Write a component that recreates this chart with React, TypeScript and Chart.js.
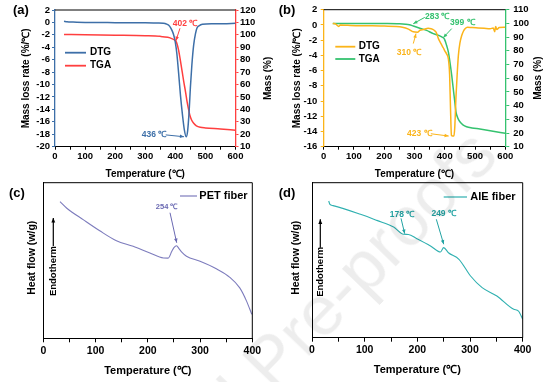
import React, { useEffect, useRef } from 'react';
import { Chart, registerables } from 'chart.js';
Chart.register(...registerables);

const FONT = '"Liberation Sans", Arial, sans-serif';
const BLUE = '#3d6fa8';
const RED = '#ff3f3f';
const ORANGE = '#fbb41a';
const GREEN = '#35c26f';
const PURPLE = '#7d7cbd';
const TEAL = '#2fb0b0';

// (a) PET fiber TG / DTG
const tempDtgA = [30, 40, 60, 100, 150, 200, 250, 300, 340, 360, 370, 378, 385, 390, 395, 400, 405, 411, 417, 424, 430, 436, 441, 446, 450, 455, 461, 467, 472, 480, 490, 520, 560, 600];
const dtgA = [0.2, 0.1, 0.05, 0, 0, -0.05, -0.05, -0.05, -0.1, -0.15, -0.25, -0.45, -0.9, -1.4, -2.1, -3.2, -5.0, -8.2, -11.7, -15.0, -17.3, -18.4, -17.4, -14.2, -10.5, -6.8, -3.6, -1.8, -0.9, -0.5, -0.3, -0.2, -0.2, -0.15];
const tempTgaA = [30, 100, 200, 300, 350, 375, 390, 398, 402, 406, 411, 417, 423, 428, 434, 439, 444, 448, 454, 461, 470, 483, 500, 550, 600];
const tgaA = [100.3, 100.0, 99.7, 99.3, 98.8, 98.0, 96.8, 95.8, 95.0, 92.5, 87.5, 79.0, 70.0, 62.3, 54.0, 46.2, 40.0, 35.5, 31.5, 28.8, 26.8, 25.6, 25.1, 24.3, 23.3];

// (b) AIE fiber TG / DTG
const tempDtgB = [30, 40, 50, 55, 80, 120, 160, 200, 240, 260, 280, 296, 310, 318, 330, 345, 355, 365, 372, 379, 388, 395, 400, 406, 412, 416, 419, 422, 426, 430, 433, 437, 441, 445, 450, 456, 462, 467, 475, 490, 510, 530, 550, 560, 565, 568, 572, 580, 600];
const dtgB = [0.2, 0.1, -0.2, 0, -0.05, -0.1, -0.1, -0.15, -0.2, -0.3, -0.55, -0.9, -0.95, -0.7, -0.6, -0.45, -0.5, -0.7, -1.0, -1.8, -2.5, -3.0, -3.4, -3.8, -4.5, -6.5, -11.0, -14.5, -14.6, -14.6, -13.5, -9.5, -6.5, -4.0, -2.4, -1.4, -0.8, -0.5, -0.3, -0.35, -0.4, -0.45, -0.5, -0.4, -0.9, -0.2, -0.6, -0.35, -0.3];
const tempTgaB = [30, 100, 200, 250, 270, 283, 296, 320, 340, 362, 380, 390, 399, 406, 412, 417, 423, 428, 433, 437, 443, 450, 460, 472, 490, 516, 550, 600];
const tgaB = [100, 100, 99.9, 99.7, 99.4, 99.0, 98.1, 96.3, 94.9, 92.5, 91.3, 90.1, 88.5, 84.0, 79.0, 71.9, 62.0, 52.5, 43.0, 35.5, 31.0, 28.2, 26.0, 24.6, 23.7, 22.9, 21.7, 19.8];

// (c) DSC PET fiber (arbitrary heat-flow units)
const tempC = [32, 45, 77, 108, 140, 172, 204, 230, 239, 246, 250, 255, 260, 265, 274, 300, 332, 357, 376, 389, 399];
const heatPET = [87.8, 83.6, 76.1, 69.1, 62.7, 59.1, 54.8, 51.6, 51.5, 55.9, 58.3, 59.5, 57.5, 55.4, 52.7, 49.5, 44.5, 39.2, 32.4, 23.9, 15.4];

// (d) DSC AIE fiber
const tempD = [31.7, 34, 40, 92, 123, 155, 174, 183, 199, 225, 244, 250, 259, 279, 301, 323, 351, 383, 392, 400];
const heatAIE = [88.2, 86.0, 85.2, 79.6, 75.7, 71.4, 66.7, 66.6, 63.9, 59.2, 55.3, 58.1, 54.8, 50.6, 39.8, 32.3, 26.9, 18.3, 17.2, 11.9];

// annotations: label, axis, text anchor (T, value), arrow tail, arrow head
const annA = [
  { label: '402 ℃', axis: 'y2', color: RED, text: [432, 109.3], from: [415.5, 105.3], to: [402, 95.3] },
  { label: '436 ℃', axis: 'y', color: BLUE, text: [329, -18.1], from: [368, -18.1], to: [429, -18.4] },
];
const annB = [
  { label: '283 ℃', axis: 'y2', color: GREEN, text: [375, 104.9], from: [334, 104.4], to: [296, 99.8] },
  { label: '399 ℃', axis: 'y2', color: GREEN, text: [458, 100.5], from: [423, 96.2], to: [395, 89.6] },
  { label: '310 ℃', axis: 'y', color: ORANGE, text: [282, -3.6], from: [296, -2.45], to: [305, -1.14] },
  { label: '423 ℃', axis: 'y', color: ORANGE, text: [316, -14.3], from: [354, -14.3], to: [413, -14.6] },
];
const annC = [
  { label: '254 ℃', axis: 'y', color: '#6a69b2', text: [236, 84.4], from: [242.5, 80.7], to: [255.3, 61.4] },
];
const annD = [
  { label: '178 ℃', axis: 'y', color: '#22a3a3', text: [171, 79.6], from: [169, 77], to: [176, 67.1] },
  { label: '249 ℃', axis: 'y', color: '#22a3a3', text: [250, 80.3], from: [236, 76.4], to: [250, 60.3] },
];

const pts = (xs: number[], ys: number[]) => xs.map((x, i) => ({ x, y: ys[i] }));

function drawText(ctx: CanvasRenderingContext2D, s: string, x: number, y: number, size: number, color: string, align: CanvasTextAlign = 'center', rot = 0) {
  ctx.save();
  ctx.translate(x, y);
  if (rot) ctx.rotate(rot);
  ctx.font = `bold ${size}px ${FONT}`;
  ctx.fillStyle = color;
  ctx.textAlign = align;
  ctx.textBaseline = 'middle';
  ctx.fillText(s, 0, 0);
  ctx.restore();
}

function arrow(ctx: CanvasRenderingContext2D, x1: number, y1: number, x2: number, y2: number, color: string, lw = 1, head = 4.5) {
  ctx.save();
  ctx.strokeStyle = color;
  ctx.fillStyle = color;
  ctx.lineWidth = lw;
  ctx.beginPath();
  ctx.moveTo(x1, y1);
  ctx.lineTo(x2, y2);
  ctx.stroke();
  const a = Math.atan2(y2 - y1, x2 - x1);
  ctx.beginPath();
  ctx.moveTo(x2, y2);
  ctx.lineTo(x2 - head * Math.cos(a - 0.4), y2 - head * Math.sin(a - 0.4));
  ctx.lineTo(x2 - head * Math.cos(a + 0.4), y2 - head * Math.sin(a + 0.4));
  ctx.closePath();
  ctx.fill();
  ctx.restore();
}

function drawAnn(chart: any, anns: any[], size: number) {
  const ctx = chart.ctx as CanvasRenderingContext2D;
  const xs = chart.scales.x;
  for (const a of anns) {
    const ys = chart.scales[a.axis];
    const X = (t: number) => xs.getPixelForValue(t);
    const Y = (v: number) => ys.getPixelForValue(v);
    drawText(ctx, a.label, X(a.text[0]), Y(a.text[1]), size, a.color);
    arrow(ctx, X(a.from[0]), Y(a.from[1]), X(a.to[0]), Y(a.to[1]), a.color, 1, 4.5);
  }
}

function hLine(ctx: CanvasRenderingContext2D, x1: number, y1: number, x2: number, y2: number, color: string, lw = 1) {
  ctx.save();
  ctx.strokeStyle = color;
  ctx.lineWidth = lw;
  ctx.beginPath();
  ctx.moveTo(x1, y1);
  ctx.lineTo(x2, y2);
  ctx.stroke();
  ctx.restore();
}

function xScale(max: number, size: number, tickLen: number, pad: number, height: number) {
  return {
    type: 'linear',
    position: 'bottom',
    min: 0,
    max,
    ticks: {
      stepSize: 50,
      autoSkip: false,
      maxRotation: 0,
      padding: pad,
      color: '#000',
      font: { family: FONT, size, weight: 'bold' },
      callback: (v: any) => (Number(v) % 100 === 0 ? String(v) : ''),
    },
    grid: { drawOnChartArea: false, drawTicks: true, tickLength: tickLen, color: '#000', lineWidth: 1 },
    border: { display: true, color: '#000', width: 1 },
    afterFit: (s: any) => { s.height = height; },
  };
}

function yScale(pos: string, min: number, max: number, step: number, color: string, size: number, tickLen: number, pad: number, width: number) {
  return {
    type: 'linear',
    position: pos,
    min,
    max,
    ticks: { stepSize: step, autoSkip: false, padding: pad, color: '#000', font: { family: FONT, size, weight: 'bold' } },
    grid: { drawOnChartArea: false, drawTicks: true, tickLength: tickLen, color, lineWidth: 1 },
    border: { display: true, color, width: 1.3 },
    afterFit: (s: any) => { s.width = width; },
  };
}

function blankY(width: number) {
  return {
    type: 'linear',
    position: 'left',
    min: 0,
    max: 100,
    ticks: { display: false },
    grid: { drawOnChartArea: false, drawTicks: false },
    border: { display: true, color: '#000', width: 1 },
    afterFit: (s: any) => { s.width = width; },
  };
}

const line = (data: any[], color: string, yAxisID: string, width = 1.5) => ({
  data,
  borderColor: color,
  backgroundColor: color,
  borderWidth: width,
  pointRadius: 0,
  yAxisID,
  cubicInterpolationMode: 'monotone',
  fill: false,
});

const baseOpts = (padding: any) => ({
  responsive: false,
  animation: false,
  events: [],
  layout: { padding },
  plugins: { legend: { display: false }, tooltip: { enabled: false } },
});

function configA() {
  return {
    type: 'line',
    data: {
      datasets: [
        line(pts(tempDtgA, dtgA), BLUE, 'y'),
        line(pts(tempTgaA, tgaA), RED, 'y2'),
      ],
    },
    options: {
      ...baseOpts({ left: 0, right: 0, top: 10, bottom: 0 }),
      scales: {
        x: xScale(600, 9.5, 3, 1.3, 35.3),
        y: yScale('left', -20, 2, 2, BLUE, 9.5, 3, 2, 55),
        y2: yScale('right', 10, 120, 10, RED, 9.5, 3, 1.5, 41.5),
      },
    },
    plugins: [{
      id: 'decoA',
      afterDraw(chart: any) {
        const ctx = chart.ctx as CanvasRenderingContext2D;
        const ca = chart.chartArea;
        hLine(ctx, ca.left, ca.top, ca.right, ca.top, '#000', 1);
        const mid = (ca.top + ca.bottom) / 2;
        drawText(ctx, '(a)', 13, 10, 13, '#000', 'left');
        drawText(ctx, 'Mass loss rate (%/℃)', 26.7, mid, 10, '#000', 'center', -Math.PI / 2);
        drawText(ctx, 'Mass (%)', 268.3, mid, 10, '#000', 'center', -Math.PI / 2);
        drawText(ctx, 'Temperature (℃)', (ca.left + ca.right) / 2, 174.3, 10, '#000');
        hLine(ctx, 65, 52.7, 86, 52.7, BLUE, 1.8);
        hLine(ctx, 65, 65.7, 86, 65.7, RED, 1.8);
        drawText(ctx, 'DTG', 90, 52.7, 10, '#000', 'left');
        drawText(ctx, 'TGA', 90, 65.7, 10, '#000', 'left');
        drawAnn(chart, annA, 8.5);
      },
    }],
  };
}

function configB() {
  return {
    type: 'line',
    data: {
      datasets: [
        line(pts(tempDtgB, dtgB), ORANGE, 'y'),
        line(pts(tempTgaB, tgaB), GREEN, 'y2'),
      ],
    },
    options: {
      ...baseOpts({ left: 0, right: 0, top: 9.3, bottom: 0 }),
      scales: {
        x: xScale(600, 9.5, 3, 1.3, 35.3),
        y: yScale('left', -16, 2, 2, ORANGE, 9.5, 3, 3.5, 46.7),
        y2: yScale('right', 10, 110, 10, GREEN, 9.5, 4, 4, 48.7),
      },
    },
    plugins: [{
      id: 'decoB',
      afterDraw(chart: any) {
        const ctx = chart.ctx as CanvasRenderingContext2D;
        const ca = chart.chartArea;
        hLine(ctx, ca.left, ca.top, ca.right, ca.top, '#000', 1);
        const mid = (ca.top + ca.bottom) / 2;
        drawText(ctx, '(b)', 1.7, 10, 13, '#000', 'left');
        drawText(ctx, 'Mass loss rate (%/℃)', 20, mid, 10, '#000', 'center', -Math.PI / 2);
        drawText(ctx, 'Mass (%)', 261.7, mid, 10, '#000', 'center', -Math.PI / 2);
        drawText(ctx, 'Temperature (℃)', (ca.left + ca.right) / 2, 174.3, 10, '#000');
        hLine(ctx, 58.3, 46.7, 78.3, 46.7, ORANGE, 1.8);
        hLine(ctx, 58.3, 59, 78.3, 59, GREEN, 1.8);
        drawText(ctx, 'DTG', 81.7, 46.7, 10, '#000', 'left');
        drawText(ctx, 'TGA', 81.7, 59, 10, '#000', 'left');
        drawAnn(chart, annB, 8.5);
      },
    }],
  };
}

function configC() {
  return {
    type: 'line',
    data: { datasets: [line(pts(tempC, heatPET), PURPLE, 'y', 1.1)] },
    options: {
      ...baseOpts({ left: 0, right: 24.7, top: 7.7, bottom: 0 }),
      scales: {
        x: xScale(400, 10.5, 4, 2.4, 43.7),
        y: blankY(43.3),
      },
    },
    plugins: [{
      id: 'decoC',
      afterDraw(chart: any) {
        const ctx = chart.ctx as CanvasRenderingContext2D;
        const ca = chart.chartArea;
        hLine(ctx, ca.left, ca.top, ca.right, ca.top, '#000', 1);
        hLine(ctx, ca.right, ca.top, ca.right, ca.bottom, '#000', 1);
        drawText(ctx, '(c)', 9, 18, 13, '#000', 'left');
        drawText(ctx, 'Heat flow (w/g)', 31.7, 82.7, 10.5, '#000', 'center', -Math.PI / 2);
        drawText(ctx, 'Temperature (℃)', (ca.left + ca.right) / 2, 196, 11, '#000');
        drawText(ctx, 'Endotherm', 53.3, 96, 9.5, '#000', 'center', -Math.PI / 2);
        arrow(ctx, 53.3, 71, 53.3, 43, '#000', 1.2, 5);
        hLine(ctx, 180, 21, 197, 21, PURPLE, 1.2);
        drawText(ctx, 'PET fiber', 199.3, 21, 11, '#000', 'left');
        drawAnn(chart, annC, 7.5);
      },
    }],
  };
}

function configD() {
  return {
    type: 'line',
    data: { datasets: [line(pts(tempD, heatAIE), TEAL, 'y', 1.1)] },
    options: {
      ...baseOpts({ left: 0, right: 31.3, top: 7.7, bottom: 0 }),
      scales: {
        x: xScale(400, 10.5, 4, 2.4, 44.3),
        y: blankY(35),
      },
    },
    plugins: [{
      id: 'decoD',
      afterDraw(chart: any) {
        const ctx = chart.ctx as CanvasRenderingContext2D;
        const ca = chart.chartArea;
        hLine(ctx, ca.left, ca.top, ca.right, ca.top, '#000', 1);
        hLine(ctx, ca.right, ca.top, ca.right, ca.bottom, '#000', 1);
        drawText(ctx, '(d)', 1.7, 18, 13, '#000', 'left');
        drawText(ctx, 'Heat flow (w/g)', 19, 82.7, 10.5, '#000', 'center', -Math.PI / 2);
        drawText(ctx, 'Temperature (℃)', (ca.left + ca.right) / 2, 195, 11, '#000');
        drawText(ctx, 'Endotherm', 43.3, 96.8, 9.5, '#000', 'center', -Math.PI / 2);
        arrow(ctx, 43.3, 72.7, 43.3, 44.3, '#000', 1.2, 5);
        hLine(ctx, 166.7, 22, 190, 22, TEAL, 1.2);
        drawText(ctx, 'AIE fiber', 193.3, 22, 11, '#000', 'left');
        drawAnn(chart, annD, 8.5);
      },
    }],
  };
}

function ChartBox({ left, top, width, height, make }: { left: number; top: number; width: number; height: number; make: () => any }) {
  const ref = useRef<HTMLCanvasElement>(null);
  useEffect(() => {
    const chart = new Chart(ref.current as HTMLCanvasElement, make());
    return () => chart.destroy();
  }, []);
  return (
    <canvas
      ref={ref}
      width={width}
      height={height}
      style={{ position: 'absolute', left, top, width, height }}
    />
  );
}

export default function App() {
  return (
    <div style={{ position: 'absolute', left: 0, top: 0, width: 554, height: 382, overflow: 'hidden', background: '#fff' }}>
      <ChartBox left={0} top={0} width={277} height={182} make={configA} />
      <ChartBox left={277} top={0} width={277} height={182} make={configB} />
      <ChartBox left={0} top={175} width={277} height={207} make={configC} />
      <ChartBox left={277} top={175} width={277} height={207} make={configD} />
      <div
        style={{
          position: 'absolute',
          left: 231,
          top: 352,
          fontFamily: FONT,
          fontSize: 70,
          lineHeight: '70px',
          whiteSpace: 'nowrap',
          color: 'rgba(0,0,0,0.07)',
          transform: 'rotate(-46deg)',
          transformOrigin: '0 0',
          pointerEvents: 'none',
        }}
      >
        <span style={{ position: 'absolute', right: '100%', top: 0 }}>Journal&nbsp;</span>
        Pre-proofs
      </div>
    </div>
  );
}
